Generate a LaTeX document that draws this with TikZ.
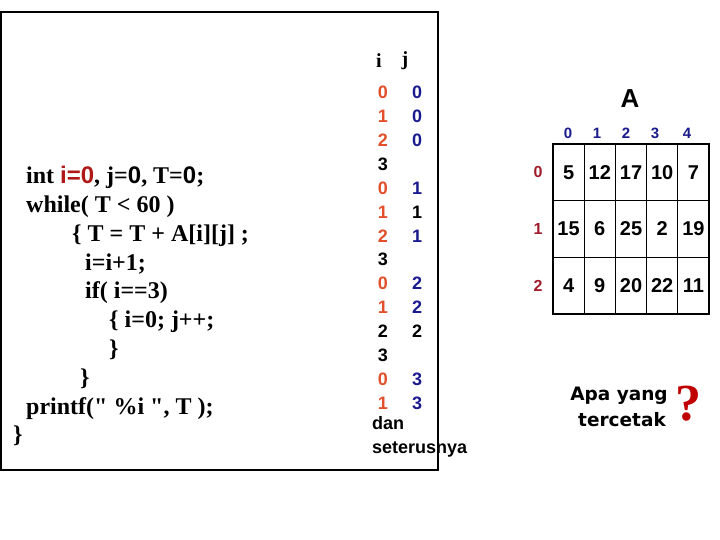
\documentclass[tikz,border=0pt]{standalone}
\usepackage{fontspec}
\setmainfont{Liberation Serif}
\newfontfamily\rawserif{Liberation Serif}
\newfontfamily\arial{Liberation Sans}
\newfontfamily\verd{DejaVu Sans}
\definecolor{ired}{HTML}{E0502A}
\definecolor{jblue}{HTML}{1A1A8C}
\definecolor{dred}{HTML}{A01C2C}
\definecolor{qred}{HTML}{C00000}
\definecolor{codered}{HTML}{B01818}
\tikzset{
  codeline/.style={anchor=mid west, inner sep=0pt, font=\fontsize{24}{28}\selectfont\bfseries},
  ijhead/.style={anchor=center, inner sep=0pt, font=\fontsize{20}{20}\selectfont\bfseries},
  ijnum/.style={anchor=center, inner sep=0pt, font=\arial\bfseries\fontsize{18}{18}\selectfont},
  ijtext/.style={anchor=mid west, inner sep=0pt, font=\arial\bfseries\fontsize{18}{18}\selectfont},
  cell/.style={draw, line width=1.2pt, minimum width=31.2pt, minimum height=56.67pt, inner sep=0pt,
    font=\arial\bfseries\fontsize{20}{20}\selectfont},
  collab/.style={anchor=center, inner sep=0pt, text=jblue, font=\arial\bfseries\fontsize{15}{15}\selectfont},
  rowlab/.style={anchor=center, inner sep=0pt, text=dred, font=\arial\bfseries\fontsize{16}{16}\selectfont},
  question/.style={anchor=center, inner sep=0pt, font=\verd\bfseries\fontsize{18.5}{18.5}\selectfont},
}
\begin{document}
\begin{tikzpicture}[x=1pt,y=-1pt]
\useasboundingbox (0,0) rectangle (720,540);
% outer frame
\draw[line width=1.3pt] (1,12) rectangle (438,470);
% code
\node[codeline] (c1) at (26,181.5) {int \textcolor{codered}{\arial i=0}, j={\arial 0}, T={\arial 0};};
\node[codeline] (c2) at (26,210.3) {while( T < 60 )};
\node[codeline] (c3) at (72,239.1) {\{ T = T + A[i][j] ;};
\node[codeline] (c4) at (85,267.9) {i=i+1;};
\node[codeline] (c5) at (85,296.7) {if( i==3)};
\node[codeline] (c6) at (109,325.5) {\{ i=0; j++;};
\node[codeline] (c7) at (109,354.3) {\}};
\node[codeline] (c8) at (80,383.1) {\}};
\node[codeline] (c9) at (26,411.9) {printf({\rawserif\bfseries "} \%i {\rawserif\bfseries "}, T );};
\node[codeline] (c10) at (13,440.7) {\}};
% i j trace
\node[ijhead] (hi) at (379,61) {i};
\node[ijhead] (hj) at (405,61) {j};
\foreach \k/\iv/\ic/\jv/\jc in {0/0/ired/0/jblue, 1/1/ired/0/jblue, 2/2/ired/0/jblue, 3/3/black//black,
  4/0/ired/1/jblue, 5/1/ired/1/black, 6/2/ired/1/jblue, 7/3/black//black,
  8/0/ired/2/jblue, 9/1/ired/2/jblue, 10/2/black/2/black, 11/3/black//black,
  12/0/ired/3/jblue, 13/1/ired/3/jblue}{
  \node[ijnum, text=\ic] (i\k) at (383,92.5+23.9*\k) {\iv};
  \node[ijnum, text=\jc] (j\k) at (417,92.5+23.9*\k) {\jv};
}
\node[ijtext] (dan) at (372,427) {dan};
\node[ijtext] (seterusnya) at (372,451) {seterusnya};
% matrix A
\node[anchor=center, inner sep=0pt, font=\arial\bfseries\fontsize{26}{26}\selectfont] (A) at (630,99) {A};
\foreach \c/\x in {0/568,1/597,2/626,3/655,4/687}{
  \node[collab] (col\c) at (\x,133) {\c};
}
\foreach \r in {0,1,2}{
  \node[rowlab] (row\r) at (538,172.3+56.67*\r) {\r};
}
\foreach \r/\vals in {0/{5,12,17,10,7},1/{15,6,25,2,19},2/{4,9,20,22,11}}{
  \foreach \v [count=\c from 0] in \vals {
    \node[cell] (m\r\c) at (568.6+31.2*\c,172.33+56.67*\r) {\v};
  }
}
% question
\node[question] (q1) at (619,396) {Apa yang};
\node[question] (q2) at (622,420) {tercetak};
\node[anchor=center, inner sep=0pt, text=qred, font=\bfseries\fontsize{52}{52}\selectfont] (qm) at (688,404) {?};
\end{tikzpicture}
\end{document}
